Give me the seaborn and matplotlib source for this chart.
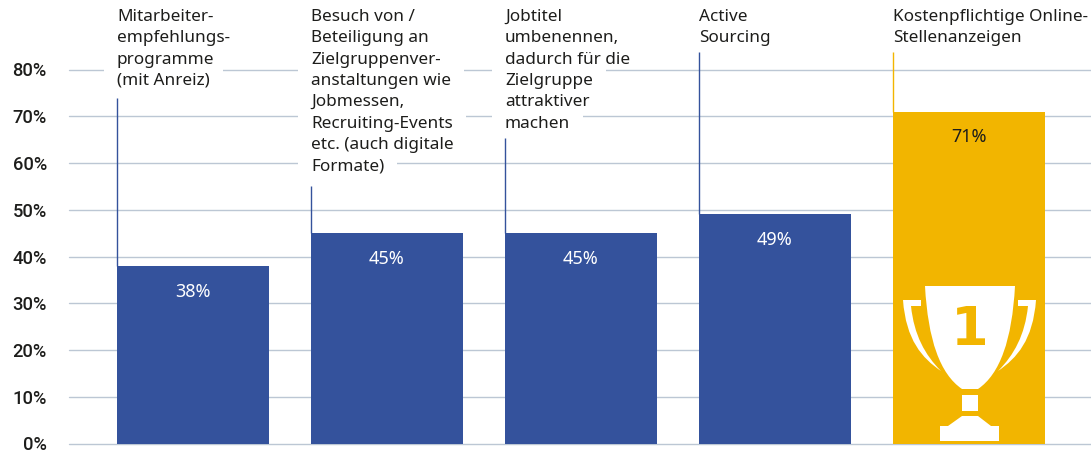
import matplotlib
matplotlib.use("Agg")
import matplotlib.pyplot as plt
import pandas as pd
import seaborn as sns
from matplotlib.patches import PathPatch, Rectangle
from matplotlib.path import Path
from matplotlib.transforms import Affine2D

categories = [
    "Mitarbeiterempfehlungsprogramme",
    "Zielgruppenveranstaltungen",
    "Jobtitel umbenennen",
    "Active Sourcing",
    "Online-Stellenanzeigen",
]
values = [38, 45, 45, 49, 71]
label_lines = [
    ["Mitarbeiter-", "empfehlungs-", "programme", "(mit Anreiz)"],
    ["Besuch von /", "Beteiligung an", "Zielgruppenver-", "anstaltungen wie", "Jobmessen,",
     "Recruiting-Events", "etc. (auch digitale", "Formate)"],
    ["Jobtitel", "umbenennen,", "dadurch für die", "Zielgruppe", "attraktiver", "machen"],
    ["Active", "Sourcing"],
    ["Kostenpflichtige Online-", "Stellenanzeigen"],
]
leader_tops = [74, 55, 65.3, 83.7, 83.7]
y_ticks = [0, 10, 20, 30, 40, 50, 60, 70, 80]

BLUE = "#34529c"
GOLD = "#f2b500"
GRID = "#bcc7d4"
DARK = "#1d1d1b"
colors = [BLUE, BLUE, BLUE, BLUE, GOLD]

sns.set_theme(style="white")
plt.rcParams["font.family"] = ["Noto Sans", "DejaVu Sans"]

W, H = 1091, 450
fig = plt.figure(figsize=(W / 100, H / 100), dpi=100)
ax = fig.add_axes([69 / W, (H - 443.5) / H, (W - 69) / W, 374 / H])
ax.patch.set_alpha(0)

df = pd.DataFrame({"category": categories, "value": values})
sns.barplot(data=df, x="category", y="value", hue="category", palette=colors,
            width=0.784, dodge=False, legend=False, saturation=1, linewidth=0,
            ax=ax, zorder=3)

ax.set_xlim(-0.639, 4.629)
ax.set_ylim(0, 80)
ax.set_xticks([])
ax.set_yticks(y_ticks)
ax.set_yticklabels([f"{t}%" for t in y_ticks], fontsize=13.2, family="Roboto",
                   fontweight="medium", color=DARK, va="center_baseline")
ax.tick_params(axis="y", length=0, pad=16)
ax.set_xlabel("")
ax.set_ylabel("")
sns.despine(ax=ax, left=True, bottom=True, top=True, right=True)
ax.set_axisbelow(True)
ax.grid(axis="y", color=GRID, linewidth=1)
for line in ax.get_ygridlines():
    line.set_clip_on(False)

# value labels inside the bars
for i, cont in enumerate(ax.containers):
    ax.bar_label(cont, fmt="%g%%", label_type="edge", padding=-25, fontsize=13,
                 color=DARK if i == 4 else "white", zorder=5)

# leader lines from the left bar edge up to the text
for i, (v, top) in enumerate(zip(values, leader_tops)):
    ax.vlines(i - 0.392, v, top, color=colors[i], linewidth=1, zorder=2, clip_on=False)

# pixel coordinates, origin top left
px = Affine2D().scale(1, -1).translate(0, H)
renderer = fig.canvas.get_renderer()
for i, lines in enumerate(label_lines):
    x0 = 117 + 194 * i
    for j, line in enumerate(lines):
        base = 21 + 21.3 * j
        t = fig.text(x0, base, line, transform=px, fontsize=12.35, color=DARK,
                     ha="left", va="baseline", zorder=6)
        w = t.get_window_extent(renderer).width
        # white strip that breaks the grid lines behind each text line
        fig.add_artist(Rectangle((x0 - 13, base - 15.5), w + 26, 21.3, transform=px,
                                 facecolor="white", edgecolor="none", zorder=1))

# trophy, traced in px
cup = [(Path.MOVETO, (925, 286)), (Path.LINETO, (1015, 286)),
       (Path.CURVE4, (1012, 340)), (Path.CURVE4, (1000, 374)), (Path.CURVE4, (978, 389)),
       (Path.LINETO, (962, 389)),
       (Path.CURVE4, (940, 374)), (Path.CURVE4, (928, 340)), (Path.CURVE4, (925, 286)),
       (Path.CLOSEPOLY, (925, 286))]
handle_l = [(Path.MOVETO, (903, 300)), (Path.LINETO, (921, 300)), (Path.LINETO, (921, 306)),
            (Path.LINETO, (911, 306)),
            (Path.CURVE4, (914, 335)), (Path.CURVE4, (925, 355)), (Path.CURVE4, (941, 371)),
            (Path.CURVE4, (922, 358)), (Path.CURVE4, (906, 340)), (Path.CURVE4, (903, 300)),
            (Path.CLOSEPOLY, (903, 300))]
handle_r = [(c, (1939 - x, y)) for c, (x, y) in handle_l]
stem = [(Path.MOVETO, (962, 395)), (Path.LINETO, (978, 395)), (Path.LINETO, (978, 411)),
        (Path.LINETO, (962, 411)), (Path.CLOSEPOLY, (962, 395))]
foot = [(Path.MOVETO, (940, 426)), (Path.LINETO, (948, 426)), (Path.LINETO, (962, 416)),
        (Path.LINETO, (978, 416)), (Path.LINETO, (991, 426)), (Path.LINETO, (999, 426)),
        (Path.LINETO, (999, 441)), (Path.LINETO, (940, 441)), (Path.CLOSEPOLY, (940, 426))]
for part in [cup, handle_l, handle_r, stem, foot]:
    codes, verts = zip(*part)
    fig.add_artist(PathPatch(Path(verts, codes), transform=px, facecolor="white",
                             edgecolor="none", zorder=7))
fig.text(970, 345, "1", transform=px, fontsize=39, fontweight="bold", family="DejaVu Sans",
         color=GOLD, ha="center", va="baseline", zorder=8)

fig.savefig("out.png", dpi=100)
